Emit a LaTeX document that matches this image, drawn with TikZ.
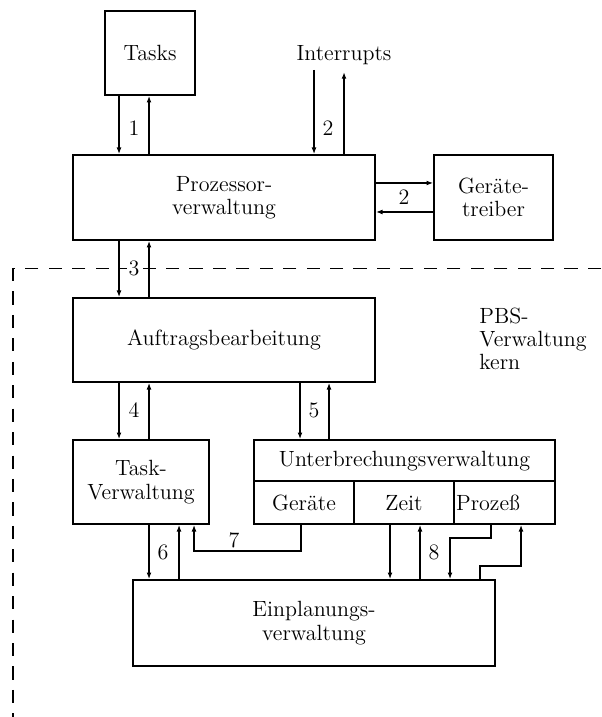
\documentclass[tikz,border=0pt]{standalone}
\usepackage{fontspec}
\usetikzlibrary{arrows.meta,calc}
\begin{document}
\begin{tikzpicture}[x=0.5333pt,y=-0.5333pt,
  every node/.style={font=\fontsize{11.75pt}{12.4pt}\selectfont},
  box/.style={draw,line width=0.8pt,rectangle,inner sep=0pt,align=center},
  arr/.style={line width=0.8pt,-{Latex[length=3.6pt,width=2.6pt]}},
  ln/.style={line width=0.8pt},
  lbl/.style={inner sep=1pt},
  bdr/.style={dash pattern=on 7pt off 5.5pt}]
\useasboundingbox (0,0) rectangle (601,717);

% boxes
\node[box,minimum width=90*0.5333pt,minimum height=84*0.5333pt] (tasks) at (150,53) {Tasks};
\node[box,minimum width=302*0.5333pt,minimum height=85*0.5333pt] (proz) at (224,197.5) {Prozessor-\\verwaltung};
\node[box,minimum width=119*0.5333pt,minimum height=85*0.5333pt] (geraet) at (493.5,197.5) {Geräte-\\treiber};
\node[box,minimum width=302*0.5333pt,minimum height=84*0.5333pt] (auft) at (224,340) {Auftragsbearbeitung};
\node[box,minimum width=136*0.5333pt,minimum height=84*0.5333pt] (taskv) at (141,482) {Task-\\Verwaltung};
\node[box,minimum width=301*0.5333pt,minimum height=84*0.5333pt] (unterb) at (404.5,482) {};
\node[box,minimum width=362*0.5333pt,minimum height=86*0.5333pt] (einpl) at (314,623) {Einplanungs-\\verwaltung};

% subdivision of the interrupt management box
\draw[ln] (unterb.west |- 0,481) -- (unterb.east |- 0,481);
\draw[ln] (354,481) -- (unterb.south -| 354,0);
\draw[ln] (454,481) -- (unterb.south -| 454,0);
\node (unt) at (404.5,461) {Unterbrechungsverwaltung};
\node (ger) at (304,503) {Geräte};
\node (zeit) at (404,503) {Zeit};
\node (proc) at (488,503) {Prozeß};

% interrupts
\node (intr) at (344,55) {Interrupts};
\coordinate (iin) at (314,70);
\coordinate (iout) at (344,72);

% kernel boundary
\draw[line width=0.5pt,bdr] (601,268) -- (13,268);
\draw[line width=1pt,bdr] (13,268) -- (13,717);
\node[anchor=west,align=left,inner sep=0pt] (pbs) at (479,339) {PBS-\\Verwaltung\\kern};

% 1
\draw[arr] (tasks.south -| 119,0) -- (proz.north -| 119,0);
\draw[arr] (proz.north -| 149,0) -- (tasks.south -| 149,0);
\node[lbl] (l1) at (134,128) {1};
% 2 (interrupts)
\draw[arr] (iin) -- (proz.north -| iin);
\draw[arr] (proz.north -| iout) -- (iout);
\node[lbl] (l2a) at (328,128) {2};
% 2 (device drivers)
\draw[arr] (proz.east |- 0,183) -- (geraet.west |- 0,183);
\draw[arr] (geraet.west |- 0,212) -- (proz.east |- 0,212);
\node[lbl] (l2b) at (404,197) {2};
% 3
\draw[arr] (proz.south -| 119,0) -- (auft.north -| 119,0);
\draw[arr] (auft.north -| 149,0) -- (proz.south -| 149,0);
\node[lbl,fill=white] (l3) at (134,268) {3};
% 4
\draw[arr] (auft.south -| 119,0) -- (taskv.north -| 119,0);
\draw[arr] (taskv.north -| 149,0) -- (auft.south -| 149,0);
\node[lbl] (l4) at (134,410) {4};
% 5
\draw[arr] (auft.south -| 300,0) -- (unterb.north -| 300,0);
\draw[arr] (unterb.north -| 329,0) -- (auft.south -| 329,0);
\node[lbl] (l5) at (314,410) {5};
% 6
\draw[arr] (taskv.south -| 149,0) -- (einpl.north -| 149,0);
\draw[arr] (einpl.north -| 179,0) -- (taskv.south -| 179,0);
\node[lbl] (l6) at (163,552) {6};
% 7
\draw[arr] (unterb.south -| 301,0) -- (301,551) -- (194,551) -- (taskv.south -| 194,0);
\node[lbl] (l7) at (234,540) {7};
% 8
\draw[arr] (unterb.south -| 390,0) -- (einpl.north -| 390,0);
\draw[arr] (einpl.north -| 420,0) -- (unterb.south -| 420,0);
\node[lbl] (l8) at (434,552) {8};
% process interrupts
\draw[arr] (unterb.south -| 491,0) -- (491,538) -- (450,538) -- (einpl.north -| 450,0);
\draw[arr] (einpl.north -| 480,0) -- (480,566) -- (521,566) -- (unterb.south -| 521,0);
\end{tikzpicture}
\end{document}
